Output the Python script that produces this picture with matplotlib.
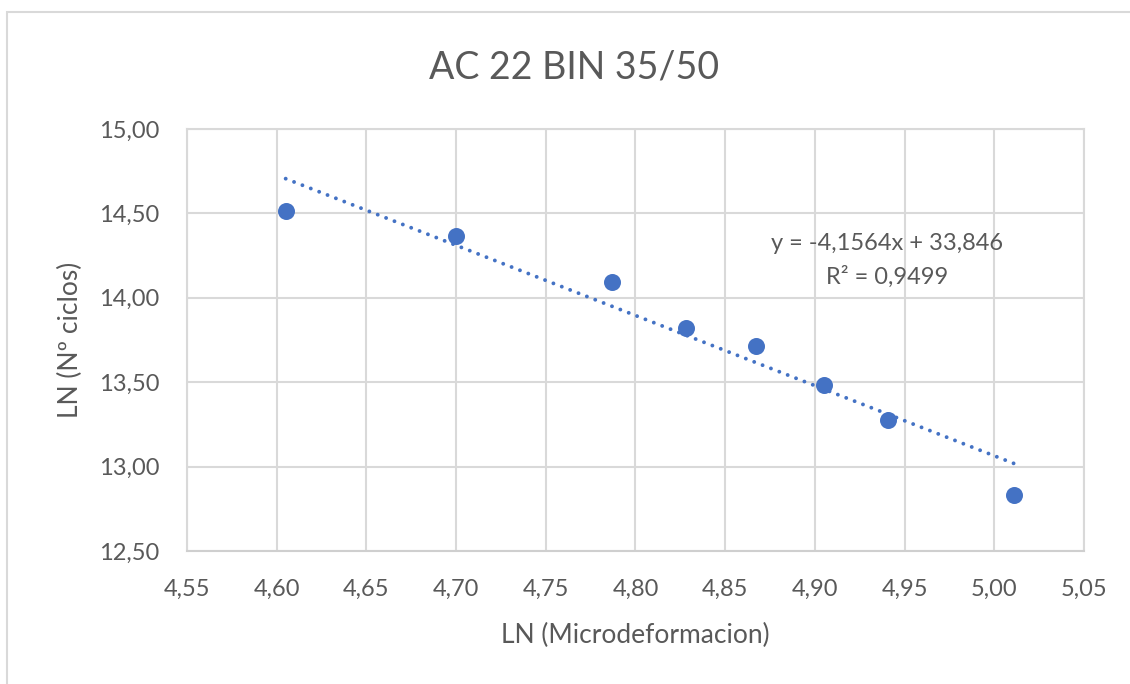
import matplotlib.pyplot as plt
from matplotlib.patches import Rectangle
from matplotlib.ticker import MultipleLocator, FuncFormatter

plt.rcParams['font.family'] = ['Lato', 'DejaVu Sans']

# Ensayo de fatiga: ln(microdeformacion) vs ln(numero de ciclos)
ln_strain = [4.605, 4.700, 4.787, 4.828, 4.867, 4.905, 4.941, 5.011]
ln_cycles = [14.514, 14.365, 14.094, 13.824, 13.717, 13.482, 13.278, 12.829]

# Linea de tendencia (ajuste lineal)
slope = -4.1564
intercept = 33.846
r2 = 0.9499

title = "AC 22 BIN 35/50"
xlabel = "LN (Microdeformacion)"
ylabel = "LN (Nº ciclos)"

text_col = "#595959"
grid_col = "#D9D9D9"
blue = "#4472C4"

fig = plt.figure(figsize=(11.3, 6.84), dpi=100)
ax = fig.add_axes([187/1130, 1 - 551/684, (1084 - 187)/1130, (551 - 129)/684])

# borde del grafico
fig.patches.append(Rectangle((7/1130, -0.5), 2, 0.5 + (684 - 12)/684,
                             transform=fig.transFigure, fill=False,
                             edgecolor=grid_col, linewidth=1.5))

xs = [min(ln_strain), max(ln_strain)]
ys = [slope * x + intercept for x in xs]
ax.plot(xs, ys, color=blue, linewidth=2.8, linestyle=(0, (0.01, 2.3)),
        dash_capstyle='round', zorder=3)
ax.scatter(ln_strain, ln_cycles, s=150, color=blue, zorder=4, linewidths=0)

ax.set_xlim(4.55, 5.05)
ax.set_ylim(12.5, 15.0)
ax.xaxis.set_major_locator(MultipleLocator(0.05))
ax.yaxis.set_major_locator(MultipleLocator(0.5))
fmt = FuncFormatter(lambda v, p: f"{v:.2f}".replace(".", ","))
ax.xaxis.set_major_formatter(fmt)
ax.yaxis.set_major_formatter(fmt)

ax.grid(True, color=grid_col, linewidth=1.5)
ax.set_axisbelow(True)
for s in ax.spines.values():
    s.set_color(grid_col)
    s.set_linewidth(1.5)
ax.spines['bottom'].set_color("#CFCFCF")
ax.tick_params(length=0, labelsize=17, labelcolor=text_col, pad=20)

ax.text(4.94, 14.324, f"y = {slope:.4f}x + {intercept:.3f}".replace(".", ","),
        ha='center', va='center', fontsize=17, color=text_col)
ax.text(4.94, 14.124, f"R² = {r2:.4f}".replace(".", ","),
        ha='center', va='center', fontsize=17, color=text_col)

fig.text(574/1130, 1 - 68/684, title, ha='center', va='center', fontsize=27, color=text_col)
fig.text((187 + 1084)/2/1130, 1 - 635/684, xlabel, ha='center', va='center',
         fontsize=19, color=text_col)
fig.text(70/1130, 1 - 340/684, ylabel, ha='center', va='center', rotation=90,
         fontsize=19, color=text_col)

fig.savefig("out.png", dpi=100, facecolor="white")
